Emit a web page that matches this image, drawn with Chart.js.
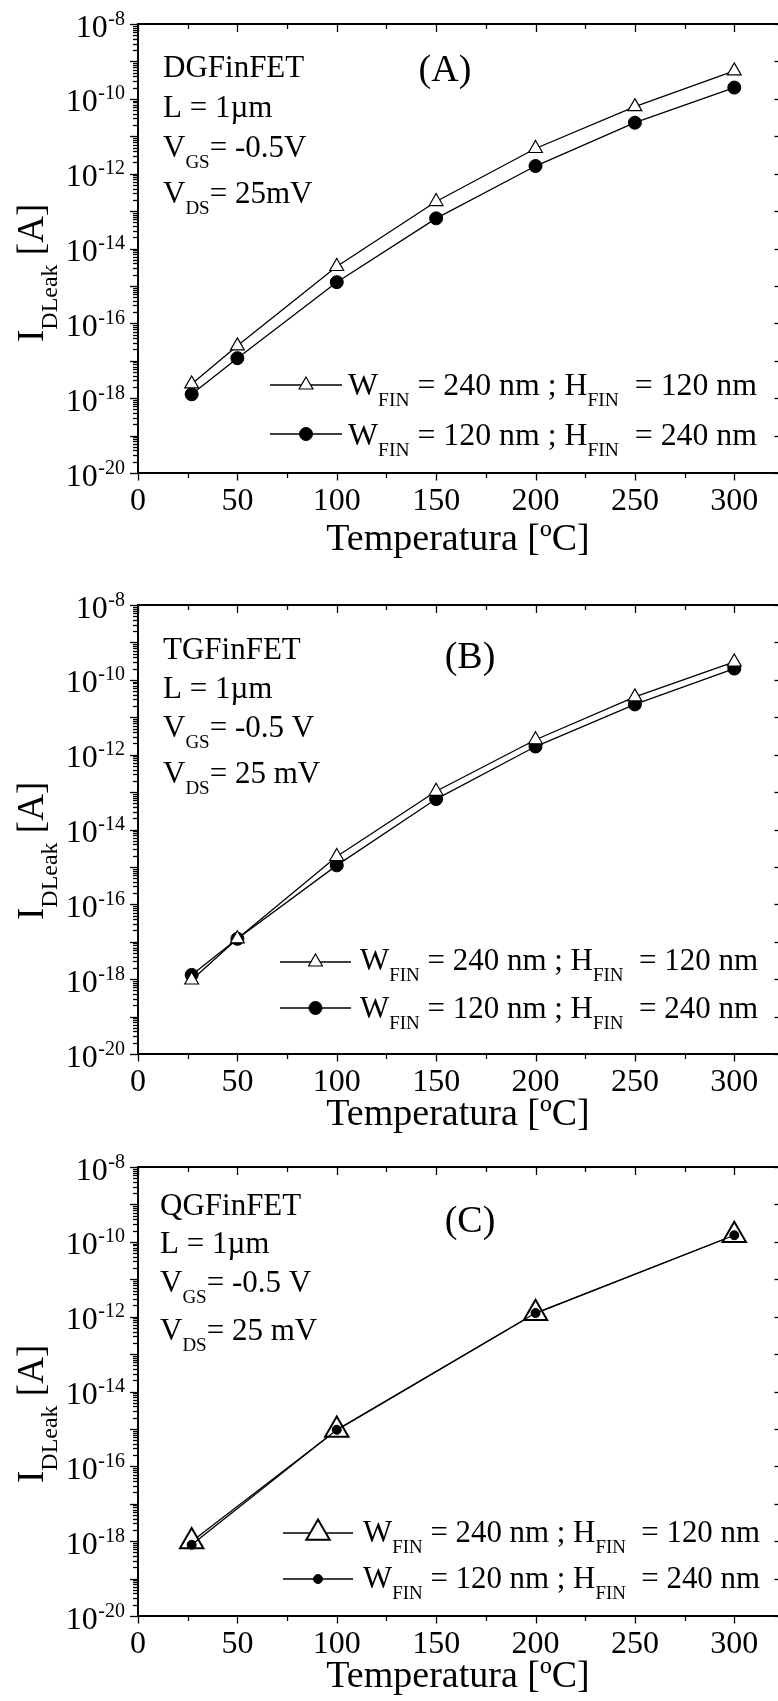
<!DOCTYPE html>
<html><head><meta charset="utf-8">
<script src="https://cdn.jsdelivr.net/npm/chart.js@4.4.1/dist/chart.umd.min.js"></script>
<style>
html,body{margin:0;padding:0;background:#fff;overflow:hidden;width:778px;height:1701px;}
canvas{position:absolute;left:0;display:block;}
</style></head><body>
<canvas id="cA" width="778" height="581" style="top:0px"></canvas>
<canvas id="cB" width="778" height="562" style="top:581px"></canvas>
<canvas id="cC" width="778" height="558" style="top:1143px"></canvas>
<script>
// ---------- data ----------
const temperatures = [27, 50, 100, 150, 200, 250, 300];
const temperaturesQG = [27, 100, 200, 300];
// (A) DGFinFET
const dgWfin240 = [2.4e-18, 2.5e-17, 3.3e-15, 1.8e-13, 4.7e-12, 6.2e-11, 5.6e-10];
const dgWfin120 = [1.27e-18, 1.17e-17, 1.26e-15, 6.4e-14, 1.6e-12, 2.3e-11, 2.0e-10];
// (B) TGFinFET
const tgWfin240 = [0.95e-18, 1.2e-17, 1.9e-15, 1.05e-13, 2.5e-12, 3.5e-11, 3.0e-10];
const tgWfin120 = [1.3e-18, 1.2e-17, 1.1e-15, 6.5e-14, 1.65e-12, 2.2e-11, 2.0e-10];
// (C) QGFinFET
const qgWfin240 = [9.8e-19, 9.3e-16, 1.23e-12, 1.5e-10];
const qgWfin120 = [8.0e-19, 9.5e-16, 1.25e-12, 1.5e-10];

const xTickStep = 50;
const xMinorStep = 25;
const yLabelExponents = [-8, -10, -12, -14, -16, -18, -20];
const seriesNames = [
  [{t:'W'},{t:'FIN',sub:true},{t:' = 240 nm ; H'},{t:'FIN',sub:true},{t:'  = 120 nm'}],
  [{t:'W'},{t:'FIN',sub:true},{t:' = 120 nm ; H'},{t:'FIN',sub:true},{t:'  = 240 nm'}]
];
const xTitle = 'Temperatura [ºC]';

// ---------- helpers ----------
const FAM = '"Liberation Serif","Times New Roman",serif';
const f = s => s + 'px ' + FAM;
Chart.defaults.color = '#000';
Chart.defaults.font.family = FAM;

function richWidth(ctx, parts){
  let w = 0;
  for (const p of parts){ ctx.font = f(p.s); w += ctx.measureText(p.t).width; }
  return w;
}
function rich(ctx, parts, x, y, targetW){
  ctx.save();
  ctx.textAlign = 'left';
  ctx.textBaseline = 'alphabetic';
  ctx.translate(x, y);
  if (targetW){ const w = richWidth(ctx, parts); ctx.scale(targetW / w, 1); }
  let cx = 0;
  for (const p of parts){
    ctx.font = f(p.s);
    ctx.fillText(p.t, cx, p.dy || 0);
    cx += ctx.measureText(p.t).width;
  }
  ctx.restore();
}
function seg(ctx, x1, y1, x2, y2){ ctx.beginPath(); ctx.moveTo(x1, y1); ctx.lineTo(x2, y2); ctx.stroke(); }

const decoPlugin = {
  id: 'deco',
  afterDraw(chart, args, o){
    const ctx = chart.ctx, xs = chart.scales.x, ys = chart.scales.y, a = chart.chartArea;
    ctx.save();
    ctx.strokeStyle = '#000'; ctx.fillStyle = '#000';
    ctx.lineWidth = 2;
    seg(ctx, a.left - 1, a.top, a.right, a.top);
    ctx.lineWidth = 1.3;
    for (let v = 0; v <= xs.max; v += xMinorStep){
      const px = Math.round(xs.getPixelForValue(v)) + 0.5;
      const major = v % xTickStep === 0;
      seg(ctx, px, a.bottom, px, a.bottom + (major ? 7.5 : 5));
      seg(ctx, px, a.top, px, a.top + (major ? 8 : 5));
    }
    for (let e = -20; e <= -8; e++){
      for (let m = 1; m <= 9; m++){
        const v = m * Math.pow(10, e);
        if (v > ys.max * 1.0001) break;
        const py = Math.round(ys.getPixelForValue(v)) + 0.5;
        seg(ctx, a.left - (m === 1 ? 8 : 5), py, a.left, py);
        if (m === 1) seg(ctx, a.right - 3.5, py, a.right, py);
      }
    }
    ctx.textBaseline = 'alphabetic';
    for (const e of yLabelExponents){
      const py = ys.getPixelForValue(Math.pow(10, e));
      ctx.textAlign = 'right';
      ctx.font = f(20);
      const es = String(e);
      ctx.fillText(es, 125, py + 0.5);
      const w = ctx.measureText(es).width;
      ctx.font = f(32);
      ctx.fillText('10', 125 - w - 0.5, py + 12.5);
    }
    ctx.save();
    ctx.translate(43, o.yTitleStart);
    ctx.rotate(-Math.PI / 2);
    rich(ctx, [{t:'I', s:37}, {t:'DLeak', s:24, dy:14}, {t:' [A]', s:37}], 0, 0);
    ctx.restore();
    const L = o.ann;
    rich(ctx, [{t:o.device, s:31}], L.x, L.b[0]);
    rich(ctx, [{t:'L = 1\u00b5m', s:31}], L.x, L.b[1]);
    rich(ctx, [{t:'V', s:31}, {t:'GS', s:19, dy:11}, {t:o.vgs, s:31}], L.x, L.b[2]);
    rich(ctx, [{t:'V', s:31}, {t:'DS', s:19, dy:11}, {t:o.vds, s:31}], L.x, L.b[3]);
    ctx.font = f(38); ctx.textAlign = 'center';
    ctx.fillText(o.letter, o.letterX, o.letterY);
    const lg = o.legend;
    chart.data.datasets.forEach((ds, i) => {
      const y = lg.rows[i];
      ctx.strokeStyle = '#000'; ctx.lineWidth = 1.3;
      seg(ctx, lg.x1, y, lg.x2, y);
      ctx.fillStyle = ds.pointBackgroundColor; ctx.strokeStyle = '#000';
      ctx.lineWidth = ds.pointBorderWidth;
      Chart.helpers.drawPoint(ctx, {pointStyle: ds.pointStyle, radius: ds.pointRadius, borderWidth: ds.pointBorderWidth, rotation: 0}, (lg.x1 + lg.x2) / 2, y);
      ctx.fillStyle = '#000';
      const parts = seriesNames[ds.legendIndex].map(p => p.sub ? {t:p.t, s:19, dy:11} : {t:p.t, s:31});
      rich(ctx, parts, lg.tx, lg.base[i], lg.tw);
    });
    ctx.restore();
  }
};

function pts(xsArr, ysArr){ return xsArr.map((x, i) => ({x, y: ysArr[i]})); }

function makeChart(id, H, titlePad, datasets, deco){
  return new Chart(document.getElementById(id), {
    type: 'line',
    data: { datasets },
    options: {
      responsive: false, animation: false, devicePixelRatio: 1, events: [],
      layout: { autoPadding: false, padding: { top: 24, left: 0, right: 0, bottom: 0 } },
      plugins: { legend: { display: false }, tooltip: { enabled: false }, deco },
      scales: {
        x: {
          type: 'linear', min: 0, max: 322,
          afterFit: s => { s.height = H - 473; s.paddingLeft = 0; s.paddingRight = 0; },
          grid: { display: false, drawTicks: false },
          border: { display: true, width: 2, color: '#000' },
          ticks: { stepSize: xTickStep, includeBounds: false, padding: 9, autoSkip: false, maxRotation: 0, color: '#000', font: { family: FAM, size: 32 } },
          title: { display: true, text: xTitle, color: '#000', font: { family: FAM, size: 38 }, padding: { top: 0, bottom: titlePad } }
        },
        y: {
          type: 'logarithmic', min: 1e-20, max: 1e-8,
          afterFit: s => { s.width = 138; s.paddingTop = 0; s.paddingBottom = 0; },
          grid: { display: false, drawTicks: false },
          border: { display: true, width: 2, color: '#000' },
          ticks: { display: false }
        }
      }
    },
    plugins: [decoPlugin]
  });
}

function triSet(xa, ya, r, bw, order){
  return { data: pts(xa, ya), borderColor: '#000', borderWidth: 1.3, pointStyle: 'triangle', pointRadius: r,
    pointBackgroundColor: '#fff', pointBorderColor: '#000', pointBorderWidth: bw, tension: 0, fill: false, legendIndex: 0, order };
}
function dotSet(xa, ya, r, order){
  return { data: pts(xa, ya), borderColor: '#000', borderWidth: 1.3, pointStyle: 'circle', pointRadius: r,
    pointBackgroundColor: '#000', pointBorderColor: '#000', pointBorderWidth: 1, tension: 0, fill: false, legendIndex: 1, order };
}

makeChart('cA', 581, 18,
  [triSet(temperatures, dgWfin240, 8, 1.2, 0), dotSet(temperatures, dgWfin120, 6.5, 1)],
  { device: 'DGFinFET', vgs: '= -0.5V', vds: '= 25mV', ann: { x: 163, b: [77, 117, 157, 203] },
    letter: '(A)', letterX: 445, letterY: 81, yTitleStart: 342,
    legend: { x1: 270, x2: 342, tx: 348, tw: 409, rows: [385, 434], base: [395, 445] } });

makeChart('cB', 562, 5,
  [triSet(temperatures, tgWfin240, 8, 1.2, 0), dotSet(temperatures, tgWfin120, 6.5, 1)],
  { device: 'TGFinFET', vgs: '= -0.5 V', vds: '= 25 mV', ann: { x: 163, b: [78, 117, 156, 202] },
    letter: '(B)', letterX: 470, letterY: 87, yTitleStart: 339,
    legend: { x1: 280, x2: 351, tx: 360, tw: 398, rows: [381, 427], base: [389, 437] } });

makeChart('cC', 558, 1,
  [triSet(temperaturesQG, qgWfin240, 13.5, 2, 1), dotSet(temperaturesQG, qgWfin120, 4.5, 0)],
  { device: 'QGFinFET', vgs: '= -0.5 V', vds: '= 25 mV', ann: { x: 160, b: [72, 110, 149, 197] },
    letter: '(C)', letterX: 470, letterY: 89, yTitleStart: 340,
    legend: { x1: 283, x2: 353, tx: 363, tw: 397, rows: [390, 436], base: [399, 445] } });
</script>
</body></html>
